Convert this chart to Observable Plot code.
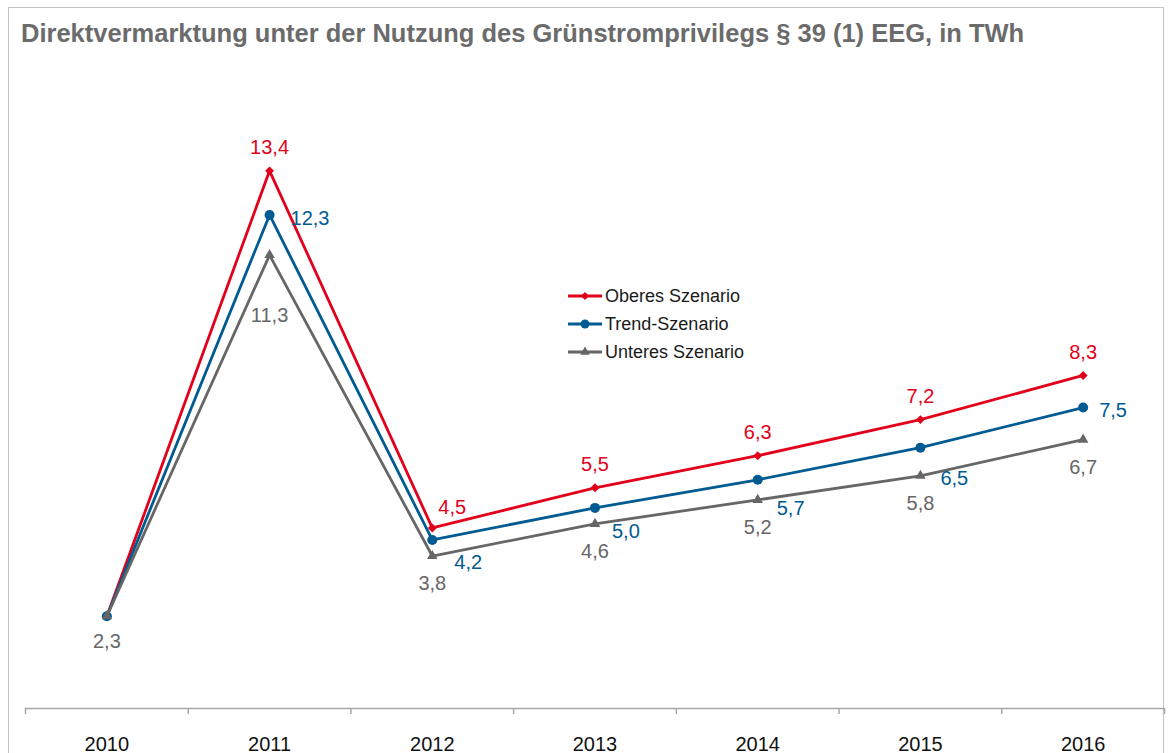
<!DOCTYPE html>
<html>
<head>
<meta charset="utf-8">
<script src="https://cdn.jsdelivr.net/npm/d3@7"></script>
<script src="https://cdn.jsdelivr.net/npm/@observablehq/plot@0.6"></script>
<style>
  html, body { margin: 0; padding: 0; background: #fff; width: 1168px; height: 753px; overflow: hidden; font-family: "Liberation Sans", Arial, sans-serif; }
  #frame { position: absolute; left: 8px; top: 7px; width: 1156px; height: 800px; border: 1px solid #c4c4c4; box-sizing: border-box; }
  #title { position: absolute; left: 21px; top: 19px; font-size: 25.5px; font-weight: bold; color: #6b6b6b; white-space: nowrap; line-height: 28px; }
  #chart { position: absolute; left: 0; top: 57px; }
  #legend { position: absolute; left: 568px; top: 282px; font-size: 18px; color: #1a1a1a; }
  .row { height: 28px; display: flex; align-items: center; }
  .row svg { margin-right: 3px; }
</style>
</head>
<body>
<div id="frame"></div>
<div id="title">Direktvermarktung unter der Nutzung des Grünstromprivilegs § 39 (1) EEG, in TWh</div>
<div id="chart"></div>
<div id="legend"></div>
<script>
// ---- data ----
const years = [2010, 2011, 2012, 2013, 2014, 2015, 2016];
const oberes = [2.3, 13.4, 4.5, 5.5, 6.3, 7.2, 8.3];
const trend = [2.3, 12.3, 4.2, 5.0, 5.7, 6.5, 7.5];
const unteres = [2.3, 11.3, 3.8, 4.6, 5.2, 5.8, 6.7];
const seriesNames = ["Oberes Szenario", "Trend-Szenario", "Unteres Szenario"];
// years with a printed value, per series
const labelledYears = {
  "Oberes Szenario": [2011, 2012, 2013, 2014, 2015, 2016],
  "Trend-Szenario": [2011, 2012, 2013, 2014, 2015, 2016],
  "Unteres Szenario": [2010, 2011, 2012, 2013, 2014, 2015, 2016]
};

// ---- styles ----
const colors = {"Oberes Szenario": "#e3001b", "Trend-Szenario": "#005b92", "Unteres Szenario": "#666666"};
const symbols = {"Oberes Szenario": "diamond2", "Trend-Szenario": "circle", "Unteres Szenario": "triangle"};
const radii = {"Oberes Szenario": 4, "Trend-Szenario": 5, "Unteres Szenario": 3.9};
// label placement (pixel nudges) per series and year
function placement(series, year) {
  if (series === "Oberes Szenario") {
    if (year === 2012) return {dx: 6, dy: -20, anchor: "start"};
    return {dx: 0, dy: -23, anchor: "middle"};
  }
  if (series === "Trend-Szenario") {
    const m = {2011: [21, 4], 2012: [22, 23], 2013: [17, 24], 2014: [19, 29], 2015: [20, 31], 2016: [16, 3]};
    return {dx: m[year][0], dy: m[year][1], anchor: "start"};
  }
  const g = {2010: 25, 2011: 61};
  return {dx: 0, dy: g[year] ?? 28, anchor: "middle"};
}

const valuesBySeries = {"Oberes Szenario": oberes, "Trend-Szenario": trend, "Unteres Szenario": unteres};
const rows = seriesNames.flatMap(s => years.map((y, i) => ({series: s, year: y, value: valuesBySeries[s][i]})));
const fmt = v => v.toFixed(1).replace(".", ",");
const boundaries = d3.range(years.length + 1).map(i => years[0] - 0.5 + i);

const marks = [];
marks.push(Plot.ruleY([0], {stroke: "#a6a6a6", strokeWidth: 1.5}));
marks.push(Plot.axisX(boundaries, {tickSize: 6, tickFormat: () => "", label: null, stroke: "#a6a6a6", strokeWidth: 1.5}));
marks.push(Plot.axisX(years, {tickSize: 0, tickPadding: 28, fontSize: 20, fontWeight: "normal", label: null, tickFormat: d => String(d), fill: "#111"}));
for (const s of seriesNames) {
  const data = rows.filter(r => r.series === s);
  marks.push(Plot.line(data, {x: "year", y: "value", stroke: colors[s], strokeWidth: 2.8}));
  marks.push(Plot.dot(data, {x: "year", y: "value", symbol: symbols[s], r: radii[s], fill: colors[s], stroke: "none"}));
}
for (const s of seriesNames) {
  for (const r of rows.filter(r => r.series === s && labelledYears[s].includes(r.year))) {
    const p = placement(s, r.year);
    marks.push(Plot.text([r], {x: "year", y: "value", text: d => fmt(d.value), dx: p.dx, dy: p.dy,
      textAnchor: p.anchor, fill: colors[s], fontSize: 20}));
  }
}

const chart = Plot.plot({
  width: 1168,
  height: 696,
  marginLeft: 25,
  marginRight: 4,
  marginTop: 9,
  marginBottom: 45,
  style: {fontFamily: "'Liberation Sans', Arial, sans-serif", color: "#000", background: "transparent", overflow: "visible"},
  x: {domain: [years[0] - 0.5, years[years.length - 1] + 0.5], axis: null, label: null},
  y: {domain: [0, 16], axis: null, label: null},
  marks
});
document.getElementById("chart").appendChild(chart);

// ---- legend ----
const legend = document.getElementById("legend");
for (const s of seriesNames) {
  const row = document.createElement("div");
  row.className = "row";
  const sw = d3.create("svg").attr("width", 34).attr("height", 14);
  sw.append("line").attr("x1", 0).attr("x2", 34).attr("y1", 7).attr("y2", 7).attr("stroke", colors[s]).attr("stroke-width", 2.8);
  const sym = {diamond2: d3.symbolDiamond2, circle: d3.symbolCircle, triangle: d3.symbolTriangle}[symbols[s]];
  sw.append("path").attr("transform", "translate(17,7)").attr("d", d3.symbol(sym, Math.PI * radii[s] * radii[s] * 0.8)()).attr("fill", colors[s]);
  row.appendChild(sw.node());
  const t = document.createElement("span");
  t.textContent = s;
  row.appendChild(t);
  legend.appendChild(row);
}
</script>
</body>
</html>
